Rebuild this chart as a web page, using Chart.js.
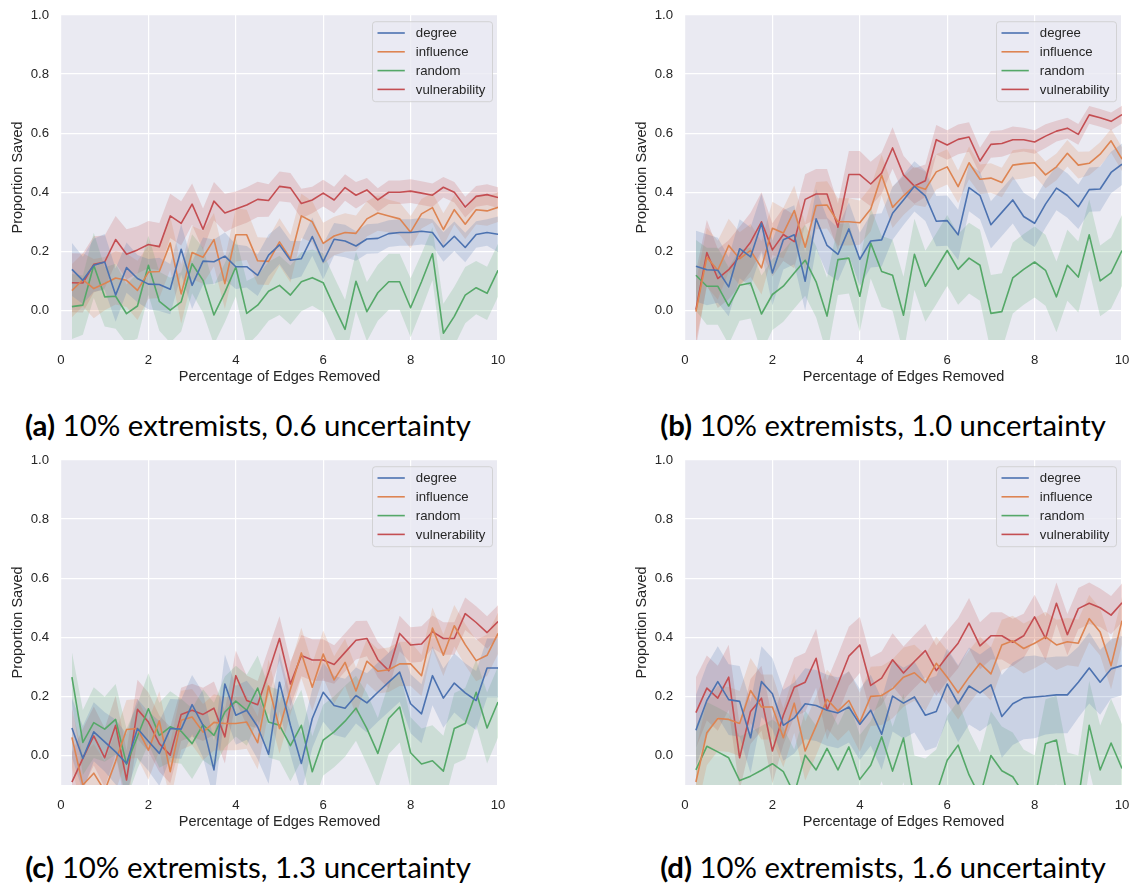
<!DOCTYPE html>
<html>
<head>
<meta charset="utf-8">
<script src="https://cdn.jsdelivr.net/npm/chart.js@4.4.1/dist/chart.umd.min.js"></script>
<style>
  html, body { margin: 0; padding: 0; background: #ffffff; width: 1132px; height: 887px; overflow: hidden; }
  .panel { position: absolute; width: 508px; height: 390px; }
  .caption { position: absolute; white-space: nowrap; font-family: Lato, "DejaVu Sans", sans-serif; color: #000; font-size: 26px; transform: translate(-50%, -50%); }
  .caption b { font-weight: 700; }
</style>
</head>
<body>
<div class="panel" style="left:0px;top:0px"><canvas id="panelA" width="508" height="390"></canvas></div>
<div class="panel" style="left:624px;top:0px"><canvas id="panelB" width="508" height="390"></canvas></div>
<div class="panel" style="left:0px;top:445px"><canvas id="panelC" width="508" height="390"></canvas></div>
<div class="panel" style="left:624px;top:445px"><canvas id="panelD" width="508" height="390"></canvas></div>

<div class="caption" style="left:248px;top:424px"><b>(a)</b> 10% extremists, 0.6 uncertainty</div>
<div class="caption" style="left:883px;top:424px"><b>(b)</b> 10% extremists, 1.0 uncertainty</div>
<div class="caption" style="left:248px;top:866px"><b>(c)</b> 10% extremists, 1.3 uncertainty</div>
<div class="caption" style="left:883px;top:866px"><b>(d)</b> 10% extremists, 1.6 uncertainty</div>

<script>
// Percentage of edges removed (x positions of every sample)
const edgePct = [0.25,0.5,0.75,1,1.25,1.5,1.75,2,2.25,2.5,2.75,3,3.25,3.5,3.75,4,4.25,4.5,4.75,5,
                 5.25,5.5,5.75,6,6.25,6.5,6.75,7,7.25,7.5,7.75,8,8.25,8.5,8.75,9,9.25,9.5,9.75,10];
const xTicks = [0, 2, 4, 6, 8, 10];
const yTicks = [0, 0.2, 0.4, 0.6, 0.8, 1.0];
const seriesNames = ['degree', 'influence', 'random', 'vulnerability'];

// (a) 0.6 uncertainty — mean proportion saved
const aDegree = [0.139,0.102,0.153,0.164,0.052,0.145,0.108,0.089,0.088,0.072,0.207,0.085,0.167,0.165,0.184,0.148,0.148,0.119,0.187,0.222,
                 0.170,0.175,0.250,0.165,0.241,0.235,0.218,0.242,0.244,0.260,0.264,0.264,0.268,0.264,0.215,0.251,0.213,0.257,0.264,0.258];
const aInfluence = [0.067,0.104,0.074,0.091,0.110,0.102,0.068,0.130,0.132,0.228,0.056,0.196,0.180,0.240,0.091,0.256,0.256,0.168,0.166,0.232,
                    0.175,0.320,0.300,0.227,0.252,0.264,0.261,0.310,0.330,0.320,0.310,0.265,0.327,0.348,0.274,0.341,0.292,0.341,0.337,0.349];
const aRandom = [0.013,0.018,0.153,0.046,0.048,-0.011,0.015,0.153,0.031,0.001,0.029,0.158,0.102,-0.015,0.061,0.147,-0.010,0.018,0.065,0.085,
                 0.052,0.097,0.111,0.094,0.013,-0.064,0.099,-0.004,0.060,0.097,0.097,0.009,0.097,0.192,-0.077,-0.020,0.052,0.077,0.058,0.136];
const aVulnerability = [0.094,0.093,0.156,0.164,0.240,0.190,0.205,0.223,0.216,0.320,0.295,0.360,0.275,0.370,0.330,0.343,0.357,0.376,0.372,0.420,
                        0.415,0.362,0.374,0.397,0.374,0.416,0.390,0.408,0.374,0.400,0.400,0.404,0.397,0.390,0.417,0.400,0.350,0.386,0.392,0.382];
// (a) confidence half-widths
const aDegreeCI = [0.09,0.08,0.09,0.095,0.09,0.085,0.08,0.085,0.09,0.085,0.085,0.08,0.08,0.075,0.08,0.075,0.07,0.07,0.07,0.065,
                   0.065,0.06,0.065,0.06,0.055,0.055,0.05,0.05,0.05,0.045,0.045,0.045,0.045,0.045,0.05,0.05,0.05,0.045,0.045,0.06];
const aInfluenceCI = [0.09,0.09,0.1,0.09,0.09,0.09,0.1,0.09,0.09,0.09,0.1,0.09,0.09,0.09,0.085,0.09,0.085,0.08,0.08,0.08,
                      0.08,0.075,0.07,0.07,0.065,0.065,0.06,0.06,0.06,0.055,0.055,0.055,0.05,0.05,0.055,0.05,0.05,0.05,0.05,0.05];
const aRandomCI = [0.11,0.1,0.11,0.1,0.11,0.1,0.11,0.1,0.1,0.11,0.1,0.1,0.11,0.1,0.1,0.1,0.11,0.1,0.1,0.1,
                   0.1,0.1,0.095,0.1,0.1,0.1,0.1,0.1,0.095,0.095,0.095,0.1,0.095,0.09,0.1,0.1,0.095,0.09,0.09,0.09];
const aVulnerabilityCI = [0.1,0.1,0.095,0.09,0.08,0.085,0.08,0.08,0.08,0.075,0.075,0.07,0.07,0.065,0.065,0.06,0.06,0.06,0.055,0.05,
                          0.05,0.05,0.045,0.045,0.045,0.045,0.045,0.04,0.04,0.04,0.04,0.04,0.04,0.04,0.035,0.035,0.035,0.035,0.035,0.035];

// (b) 1.0 uncertainty
const bDegree = [0.150,0.138,0.136,0.080,0.209,0.181,0.295,0.127,0.239,0.256,0.099,0.310,0.220,0.190,0.276,0.173,0.235,0.239,0.329,0.374,
                 0.420,0.388,0.302,0.304,0.256,0.416,0.389,0.290,0.332,0.374,0.318,0.295,0.360,0.414,0.389,0.351,0.409,0.411,0.467,0.495];
const bInfluence = [-0.004,0.180,0.136,0.220,0.175,0.203,0.144,0.278,0.262,0.338,0.214,0.355,0.357,0.300,0.300,0.297,0.343,0.458,0.349,0.388,
                    0.422,0.410,0.469,0.486,0.419,0.500,0.444,0.448,0.433,0.492,0.497,0.500,0.459,0.486,0.532,0.492,0.498,0.529,0.574,0.512];
const bRandom = [0.119,0.082,0.082,0.015,0.085,0.093,-0.012,0.054,0.082,0.127,0.170,0.097,-0.019,0.172,0.177,0.048,0.228,0.132,0.119,-0.016,
                 0.190,0.082,0.141,0.203,0.139,0.177,0.153,-0.010,-0.004,0.110,0.139,0.164,0.136,0.046,0.153,0.113,0.256,0.100,0.127,0.203];
const bVulnerability = [0.003,0.196,0.108,0.138,0.183,0.231,0.300,0.205,0.257,0.233,0.376,0.394,0.394,0.282,0.460,0.460,0.428,0.465,0.550,0.459,
                        0.421,0.439,0.578,0.560,0.579,0.587,0.506,0.562,0.565,0.578,0.578,0.570,0.590,0.607,0.617,0.596,0.662,0.652,0.640,0.663];
const bDegreeCI = [0.12,0.12,0.11,0.1,0.1,0.1,0.1,0.11,0.1,0.1,0.1,0.1,0.095,0.09,0.09,0.09,0.09,0.09,0.09,0.085,
                   0.085,0.085,0.085,0.085,0.085,0.08,0.08,0.08,0.08,0.08,0.08,0.08,0.08,0.075,0.075,0.075,0.075,0.075,0.07,0.07];
const bInfluenceCI = [0.1,0.1,0.1,0.09,0.09,0.09,0.09,0.09,0.085,0.085,0.08,0.08,0.08,0.08,0.08,0.075,0.075,0.07,0.07,0.065,
                      0.065,0.06,0.06,0.06,0.055,0.055,0.05,0.05,0.05,0.05,0.05,0.045,0.045,0.045,0.045,0.045,0.04,0.04,0.04,0.04];
const bRandomCI = [0.12,0.13,0.13,0.13,0.12,0.12,0.13,0.12,0.12,0.12,0.12,0.12,0.13,0.12,0.12,0.12,0.12,0.12,0.12,0.13,
                   0.12,0.12,0.12,0.12,0.12,0.12,0.12,0.13,0.13,0.12,0.12,0.12,0.12,0.12,0.12,0.12,0.12,0.12,0.12,0.12];
const bVulnerabilityCI = [0.13,0.11,0.1,0.1,0.1,0.1,0.1,0.09,0.09,0.09,0.085,0.085,0.085,0.08,0.08,0.08,0.075,0.07,0.07,0.065,
                          0.06,0.055,0.05,0.05,0.05,0.05,0.045,0.045,0.045,0.045,0.04,0.04,0.04,0.035,0.035,0.035,0.03,0.03,0.03,0.03];

// (c) 1.3 uncertainty
const cDegree = [0.093,-0.010,0.080,0.046,0.012,-0.027,0.091,0.048,0.007,0.091,0.089,0.172,0.102,-0.049,0.242,0.136,0.153,0.097,0.004,0.248,
                 0.102,-0.027,0.125,0.214,0.169,0.160,0.203,0.178,0.214,0.248,0.282,0.175,0.141,0.270,0.194,0.245,0.212,0.186,0.296,0.296];
const cInfluence = [0.061,-0.100,-0.060,-0.120,-0.020,0.088,0.091,0.018,0.117,-0.055,0.119,0.130,0.079,0.112,0.108,0.108,0.113,0.043,0.235,0.091,
                    0.224,0.347,0.231,0.343,0.256,0.315,0.218,0.319,0.285,0.290,0.310,0.310,0.270,0.431,0.339,0.439,0.375,0.321,0.339,0.413];
const cRandom = [0.265,0.044,0.111,0.089,0.122,-0.030,0.065,0.158,0.068,0.097,0.082,0.040,0.104,0.068,0.147,0.184,0.153,0.228,0.113,0.102,
                 0.033,0.102,-0.055,0.052,0.080,0.116,0.160,0.091,0.007,0.125,0.164,0.009,-0.029,-0.018,-0.053,0.091,0.108,0.214,0.093,0.181];
const cVulnerability = [-0.090,-0.010,0.066,-0.008,0.102,-0.083,0.156,0.113,0.040,0.001,0.139,0.153,0.139,0.160,0.063,0.270,0.186,0.172,0.282,0.396,
                        0.242,0.338,0.323,0.323,0.308,0.349,0.390,0.396,0.324,0.287,0.413,0.374,0.377,0.419,0.396,0.396,0.480,0.450,0.416,0.453];
const cDegreeCI = [0.1,0.11,0.1,0.1,0.11,0.1,0.1,0.1,0.11,0.1,0.1,0.1,0.11,0.1,0.1,0.1,0.1,0.11,0.1,0.1,
                   0.1,0.1,0.1,0.1,0.1,0.1,0.095,0.1,0.1,0.1,0.1,0.1,0.1,0.1,0.1,0.1,0.1,0.1,0.1,0.1];
const cInfluenceCI = [0.1,0.1,0.1,0.1,0.1,0.1,0.1,0.1,0.1,0.1,0.1,0.095,0.095,0.095,0.09,0.09,0.09,0.09,0.09,0.085,
                      0.085,0.085,0.08,0.08,0.08,0.08,0.08,0.075,0.075,0.075,0.075,0.075,0.07,0.07,0.07,0.07,0.07,0.07,0.07,0.07];
const cRandomCI = [0.085,0.11,0.12,0.11,0.12,0.12,0.11,0.12,0.11,0.12,0.11,0.12,0.12,0.11,0.12,0.12,0.12,0.11,0.12,0.12,
                   0.12,0.12,0.12,0.12,0.12,0.12,0.11,0.12,0.12,0.12,0.12,0.12,0.12,0.12,0.12,0.12,0.12,0.11,0.12,0.12];
const cVulnerabilityCI = [0.1,0.1,0.1,0.1,0.1,0.1,0.1,0.1,0.095,0.095,0.09,0.09,0.09,0.09,0.09,0.085,0.085,0.08,0.08,0.075,
                          0.075,0.07,0.07,0.07,0.065,0.065,0.065,0.06,0.06,0.06,0.06,0.06,0.06,0.055,0.055,0.055,0.055,0.055,0.055,0.055];

// (d) 1.6 uncertainty
const dDegree = [0.085,0.186,0.250,0.189,0.183,0.060,0.250,0.209,0.102,0.127,0.175,0.169,0.153,0.144,0.164,0.105,0.153,0.072,0.201,0.177,
                 0.198,0.136,0.149,0.242,0.175,0.235,0.212,0.239,0.132,0.175,0.195,0.198,0.201,0.205,0.205,0.248,0.296,0.248,0.293,0.304];
const dInfluence = [-0.090,0.077,0.125,0.122,0.108,0.220,0.164,0.164,0.060,0.177,0.015,0.100,0.190,0.150,0.186,0.112,0.200,0.203,0.226,0.265,
                    0.280,0.246,0.312,0.265,0.212,0.265,0.312,0.276,0.374,0.388,0.362,0.380,0.401,0.374,0.385,0.380,0.463,0.418,0.304,0.456];
const dRandom = [-0.049,0.031,0.012,-0.008,-0.085,-0.070,-0.050,-0.028,-0.055,-0.130,0.001,-0.049,0.024,-0.049,0.029,-0.081,-0.033,0.063,-0.053,0.059,
                 -0.150,-0.160,-0.130,-0.016,0.035,-0.066,-0.140,0.000,-0.052,-0.072,-0.130,-0.150,0.040,0.052,-0.140,-0.150,0.102,-0.049,0.042,-0.044];
const dVulnerability = [0.145,0.228,0.194,0.265,-0.008,0.149,0.194,0.015,0.136,0.231,0.248,0.329,0.153,0.242,0.336,0.374,0.237,0.262,0.324,0.279,
                        0.318,0.355,0.287,0.336,0.380,0.448,0.371,0.405,0.405,0.383,0.405,0.469,0.396,0.515,0.409,0.497,0.515,0.500,0.475,0.517];
const dDegreeCI = [0.12,0.12,0.12,0.12,0.12,0.12,0.12,0.12,0.12,0.12,0.12,0.12,0.12,0.12,0.12,0.12,0.12,0.12,0.12,0.12,
                   0.12,0.12,0.12,0.12,0.13,0.13,0.13,0.13,0.14,0.14,0.14,0.14,0.13,0.13,0.13,0.12,0.12,0.11,0.1,0.1];
const dInfluenceCI = [0.11,0.11,0.11,0.11,0.11,0.11,0.11,0.11,0.1,0.1,0.1,0.1,0.1,0.1,0.1,0.1,0.1,0.1,0.1,0.1,
                      0.095,0.095,0.09,0.09,0.09,0.09,0.09,0.09,0.085,0.085,0.085,0.085,0.085,0.085,0.08,0.08,0.08,0.08,0.08,0.08];
const dRandomCI = [0.15,0.15,0.15,0.15,0.15,0.15,0.15,0.15,0.15,0.15,0.15,0.15,0.15,0.15,0.15,0.15,0.15,0.15,0.15,0.15,
                   0.15,0.15,0.15,0.15,0.15,0.15,0.15,0.15,0.15,0.15,0.15,0.15,0.15,0.15,0.15,0.15,0.15,0.15,0.15,0.15];
const dVulnerabilityCI = [0.12,0.11,0.11,0.11,0.11,0.11,0.11,0.11,0.1,0.1,0.1,0.1,0.1,0.1,0.1,0.095,0.095,0.09,0.09,0.09,
                          0.09,0.09,0.085,0.085,0.085,0.085,0.08,0.08,0.08,0.08,0.075,0.075,0.075,0.07,0.07,0.07,0.07,0.065,0.065,0.065];

const seriesColors = ['#4C72B0', '#DD8452', '#55A868', '#C44E52'];
const bandColors = ['rgba(76,114,176,0.2)', 'rgba(221,132,82,0.2)', 'rgba(85,168,104,0.2)', 'rgba(196,78,82,0.2)'];
const tickColor = '#262626';
const FONT = "'Liberation Sans', Arial, sans-serif";

const panels = [
  { id: 'panelA', means: [aDegree, aInfluence, aRandom, aVulnerability], ci: [aDegreeCI, aInfluenceCI, aRandomCI, aVulnerabilityCI] },
  { id: 'panelB', means: [bDegree, bInfluence, bRandom, bVulnerability], ci: [bDegreeCI, bInfluenceCI, bRandomCI, bVulnerabilityCI] },
  { id: 'panelC', means: [cDegree, cInfluence, cRandom, cVulnerability], ci: [cDegreeCI, cInfluenceCI, cRandomCI, cVulnerabilityCI] },
  { id: 'panelD', means: [dDegree, dInfluence, dRandom, dVulnerability], ci: [dDegreeCI, dInfluenceCI, dRandomCI, dVulnerabilityCI] }
];

// grey plotting background behind grid and data
const panelBackground = {
  id: 'panelBackground',
  beforeDraw(chart) {
    const { ctx, chartArea: a } = chart;
    ctx.save();
    ctx.fillStyle = '#EAEAF2';
    ctx.fillRect(a.left, a.top, a.right - a.left, a.bottom - a.top);
    ctx.restore();
  }
};

// framed legend in the upper-right corner of the plotting area
const boxLegend = {
  id: 'boxLegend',
  afterDraw(chart) {
    const { ctx, chartArea: a } = chart;
    const w = 120, h = 80, r = 3;
    const x = a.right - 5.5 - w, y = a.top + 6.7;
    ctx.save();
    ctx.beginPath();
    ctx.moveTo(x + r, y);
    ctx.lineTo(x + w - r, y); ctx.quadraticCurveTo(x + w, y, x + w, y + r);
    ctx.lineTo(x + w, y + h - r); ctx.quadraticCurveTo(x + w, y + h, x + w - r, y + h);
    ctx.lineTo(x + r, y + h); ctx.quadraticCurveTo(x, y + h, x, y + h - r);
    ctx.lineTo(x, y + r); ctx.quadraticCurveTo(x, y, x + r, y);
    ctx.closePath();
    ctx.fillStyle = 'rgba(234,234,242,0.8)';
    ctx.fill();
    ctx.strokeStyle = 'rgba(204,204,204,0.8)';
    ctx.lineWidth = 1;
    ctx.stroke();
    ctx.font = '13.2px ' + FONT;
    ctx.textBaseline = 'middle';
    ctx.textAlign = 'left';
    seriesNames.forEach((name, k) => {
      const cy = y + 11.3 + k * 18.8;
      ctx.strokeStyle = seriesColors[k];
      ctx.lineWidth = 1.6;
      ctx.beginPath();
      ctx.moveTo(x + 5, cy);
      ctx.lineTo(x + 32.3, cy);
      ctx.stroke();
      ctx.fillStyle = tickColor;
      ctx.fillText(name, x + 43.3, cy + 0.5);
    });
    ctx.restore();
  }
};

function buildDatasets(panel) {
  const sets = [];
  panel.means.forEach((mean, k) => {
    const ci = panel.ci[k];
    sets.push({
      label: seriesNames[k] + ' lower',
      data: mean.map((v, i) => ({ x: edgePct[i], y: v - ci[i] })),
      borderColor: 'transparent', borderWidth: 0, pointRadius: 0, fill: false, tension: 0
    });
    sets.push({
      label: seriesNames[k] + ' upper',
      data: mean.map((v, i) => ({ x: edgePct[i], y: v + ci[i] })),
      borderColor: 'transparent', borderWidth: 0, pointRadius: 0,
      backgroundColor: bandColors[k], fill: '-1', tension: 0
    });
  });
  panel.means.forEach((mean, k) => {
    sets.push({
      label: seriesNames[k],
      data: mean.map((v, i) => ({ x: edgePct[i], y: v })),
      borderColor: seriesColors[k], borderWidth: 1.6, pointRadius: 0,
      fill: false, tension: 0, borderJoinStyle: 'round', borderCapStyle: 'butt'
    });
  });
  return sets;
}

function makeChart(panel) {
  const canvas = document.getElementById(panel.id);
  return new Chart(canvas, {
    type: 'line',
    data: { datasets: buildDatasets(panel) },
    options: {
      responsive: false,
      animation: false,
      devicePixelRatio: 1,
      layout: { padding: { left: 0, top: 15, right: 10, bottom: 0 } },
      plugins: {
        legend: { display: false },
        tooltip: { enabled: false },
        filler: { propagate: false, drawTime: 'beforeDatasetsDraw' }
      },
      scales: {
        x: {
          type: 'linear', min: 0, max: 10,
          afterBuildTicks: (s) => { s.ticks = xTicks.map(v => ({ value: v })); },
          afterFit: (s) => { s.height = 50; s.paddingLeft = 0; s.paddingRight = 0; },
          grid: { color: '#ffffff', lineWidth: 1.2, drawTicks: false },
          border: { display: false },
          ticks: { padding: 12, color: tickColor, font: { family: FONT, size: 13.2 }, maxRotation: 0,
                   callback: (v) => String(v) },
          title: { display: true, text: 'Percentage of Edges Removed', color: tickColor,
                   font: { family: FONT, size: 14.5 }, padding: { top: 0, bottom: 4 } }
        },
        y: {
          type: 'linear', min: -0.1, max: 1.0,
          afterBuildTicks: (s) => { s.ticks = yTicks.map(v => ({ value: v })); },
          afterFit: (s) => { s.width = 61; s.paddingTop = 0; s.paddingBottom = 0; },
          grid: { color: '#ffffff', lineWidth: 1.2, drawTicks: false },
          border: { display: false },
          ticks: { padding: 12, color: tickColor, font: { family: FONT, size: 13.2 },
                   callback: (v) => Number(v).toFixed(1) },
          title: { display: true, text: 'Proportion Saved', color: tickColor,
                   font: { family: FONT, size: 14.5 }, padding: { top: 9, bottom: 0 } }
        }
      }
    },
    plugins: [panelBackground, boxLegend]
  });
}

panels.forEach(makeChart);

// size the sub-captions to their printed width
function fitCaptions() {
  document.querySelectorAll('.caption').forEach(el => {
    const target = 446;
    const w = el.getBoundingClientRect().width;
    if (w > 0) {
      const size = parseFloat(getComputedStyle(el).fontSize);
      el.style.fontSize = (size * target / w).toFixed(2) + 'px';
    }
  });
}
if (document.fonts && document.fonts.ready) { document.fonts.ready.then(fitCaptions); } else { fitCaptions(); }
</script>
</body>
</html>
